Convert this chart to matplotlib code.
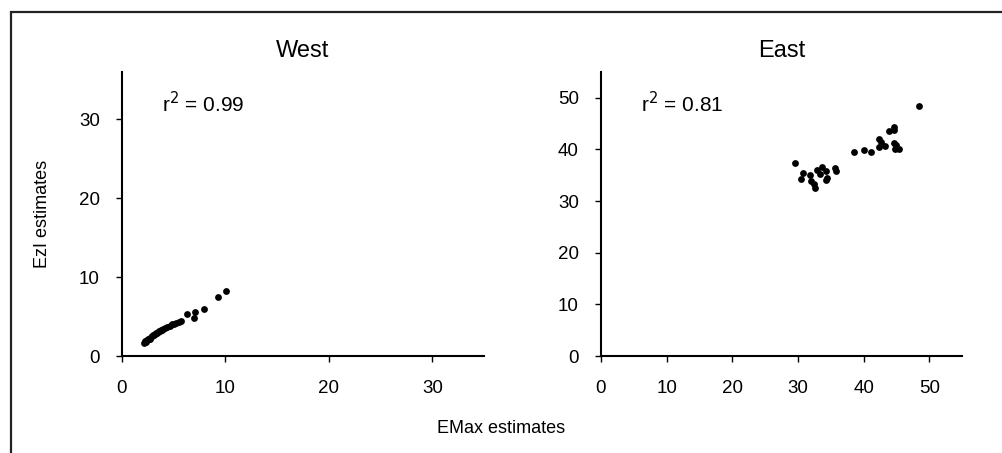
import matplotlib
matplotlib.use("Agg")
import matplotlib.pyplot as plt
from matplotlib.patches import Rectangle

plt.rcParams['font.family'] = ['Liberation Sans', 'DejaVu Sans']

# Data ########################################################################
west_x = [2.1, 2.2, 2.3, 2.4, 2.5, 2.6, 2.7, 2.8, 2.9, 3.0, 3.1, 3.2, 3.3,
          3.4, 3.5, 3.6, 3.7, 3.8, 3.9, 4.0, 4.2, 4.4, 4.6, 4.8, 5.0, 5.2,
          5.5, 5.7, 6.3, 7.0, 7.1, 7.9, 9.3, 10.1]
west_y = [1.7, 1.9, 1.8, 2.0, 2.1, 2.2, 2.2, 2.4, 2.5, 2.6, 2.6, 2.8, 2.9,
          2.9, 3.0, 3.2, 3.2, 3.3, 3.3, 3.4, 3.6, 3.7, 3.8, 4.0, 4.1, 4.2,
          4.3, 4.4, 5.3, 4.8, 5.6, 6.0, 7.5, 8.2]

east_x = [29.6, 30.8, 30.5, 31.8, 32.0, 32.4, 32.6, 32.9, 33.6, 34.3, 34.3,
          34.5, 35.7, 35.8, 33.3, 38.5, 40.0, 41.2, 42.3, 42.4, 42.7, 43.3,
          43.8, 44.6, 44.7, 44.7, 44.8, 45.4, 45.0, 48.4]
east_y = [37.3, 35.5, 34.2, 35.0, 33.9, 33.3, 32.6, 36.0, 36.6, 35.9, 34.1,
          34.4, 36.4, 35.9, 35.2, 39.6, 39.8, 39.5, 40.4, 42.0, 41.5, 40.6,
          43.5, 41.2, 44.4, 43.7, 40.1, 40.1, 40.9, 48.4]

panels = ['West', 'East']
r2_labels = ['r$^2$ = 0.99', 'r$^2$ = 0.81']
west_ticks = [0, 10, 20, 30]
east_ticks = [0, 10, 20, 30, 40, 50]

# Figure #######################################################################
fig = plt.figure(figsize=(10.03, 4.53), dpi=100)

# outer frame (runs off the right and bottom edges like the reference)
fig.patches.append(Rectangle((0.011, -0.05), 1.05, 0.9735 + 0.05,
                             transform=fig.transFigure, fill=False,
                             edgecolor='#222222', linewidth=1.6))

ax1 = fig.add_axes([0.1216, 0.2141, 0.361, 0.627])
ax2 = fig.add_axes([0.5992, 0.2141, 0.360, 0.627])

ax1.scatter(west_x, west_y, s=24, color='black', linewidths=0, zorder=3)
ax2.scatter(east_x, east_y, s=24, color='black', linewidths=0, zorder=3)

ax1.set_xlim(0, 35)
ax1.set_ylim(0, 36)
ax1.set_xticks(west_ticks)
ax1.set_yticks(west_ticks)

ax2.set_xlim(0, 55)
ax2.set_ylim(0, 55)
ax2.set_xticks(east_ticks)
ax2.set_yticks(east_ticks)

for ax, title, r2 in zip([ax1, ax2], panels, r2_labels):
	ax.spines['top'].set_visible(False)
	ax.spines['right'].set_visible(False)
	ax.spines['left'].set_linewidth(1.5)
	ax.spines['bottom'].set_linewidth(1.5)
	ax.tick_params(axis='x', direction='out', length=4, width=1, pad=13, labelsize=13.5)
	ax.tick_params(axis='y', direction='out', length=4, width=1, pad=12, labelsize=13.5)
	ax.set_title(title, fontsize=17, pad=11)
	ax.text(0.11, 0.89, r2, transform=ax.transAxes, fontsize=15, va='center', ha='left')

ax1.set_ylabel('EzI estimates', fontsize=13)
ax1.yaxis.set_label_coords(-0.197, 0.5)
fig.text(0.5, 0.055, 'EMax estimates', fontsize=13, ha='center', va='center')

fig.savefig('out.png', dpi=100)
